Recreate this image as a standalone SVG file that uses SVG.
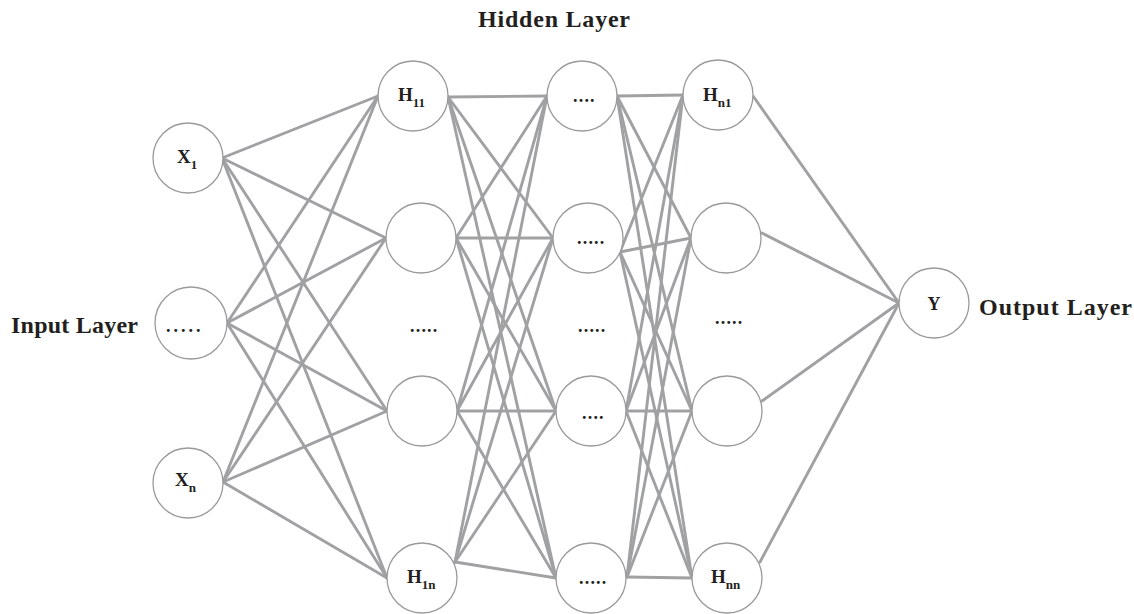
<svg xmlns="http://www.w3.org/2000/svg" width="1134" height="614" viewBox="0 0 1134 614">
<style>
.c{fill:#fff;stroke:#9a9a9c;stroke-width:1.3}
.e line{stroke:#a0a1a3;stroke-width:2.9;stroke-linecap:round}
.t{font-family:"Liberation Serif","Times New Roman",serif;font-weight:bold;fill:#231f20}
.lab{font-size:19px}
.sub{font-size:13px}
.dots{font-size:18px;letter-spacing:1.2px}
.title{font-size:24px}
</style>
<rect width="1134" height="614" fill="#fff"/>
<g id="connectors" class="e">
<line x1="222" y1="158" x2="378" y2="96"/><line x1="222" y1="158" x2="386" y2="238"/><line x1="222" y1="158" x2="387" y2="411"/><line x1="222" y1="158" x2="387" y2="578"/>
<line x1="227" y1="323" x2="378" y2="96"/><line x1="227" y1="323" x2="386" y2="238"/><line x1="227" y1="323" x2="387" y2="411"/><line x1="227" y1="323" x2="387" y2="578"/>
<line x1="223" y1="482" x2="378" y2="96"/><line x1="223" y1="482" x2="386" y2="238"/><line x1="223" y1="482" x2="387" y2="411"/><line x1="223" y1="482" x2="387" y2="578"/>
<line x1="448" y1="97" x2="547" y2="96"/><line x1="448" y1="97" x2="553" y2="238"/><line x1="448" y1="97" x2="556" y2="411"/><line x1="448" y1="97" x2="556" y2="578"/>
<line x1="456" y1="238" x2="547" y2="96"/><line x1="456" y1="238" x2="553" y2="238"/><line x1="456" y1="238" x2="556" y2="411"/><line x1="456" y1="238" x2="556" y2="578"/>
<line x1="457" y1="411" x2="547" y2="96"/><line x1="457" y1="411" x2="553" y2="238"/><line x1="457" y1="411" x2="556" y2="411"/><line x1="457" y1="411" x2="556" y2="578"/>
<line x1="455" y1="562" x2="547" y2="96"/><line x1="455" y1="562" x2="553" y2="238"/><line x1="455" y1="562" x2="556" y2="411"/><line x1="455" y1="562" x2="556" y2="578"/>
<line x1="617" y1="96" x2="683" y2="95"/><line x1="617" y1="96" x2="691" y2="238"/><line x1="617" y1="96" x2="692" y2="411"/><line x1="617" y1="96" x2="692" y2="578"/>
<line x1="620" y1="252" x2="683" y2="95"/><line x1="620" y1="252" x2="691" y2="238"/><line x1="620" y1="252" x2="692" y2="411"/><line x1="620" y1="252" x2="692" y2="578"/>
<line x1="626" y1="411" x2="683" y2="95"/><line x1="626" y1="411" x2="691" y2="238"/><line x1="626" y1="411" x2="692" y2="411"/><line x1="626" y1="411" x2="692" y2="578"/>
<line x1="627" y1="577" x2="683" y2="95"/><line x1="627" y1="577" x2="691" y2="238"/><line x1="627" y1="577" x2="692" y2="411"/><line x1="627" y1="577" x2="692" y2="578"/>
<line x1="753" y1="96" x2="899" y2="303"/><line x1="762" y1="233" x2="899" y2="303"/><line x1="762" y1="401" x2="899" y2="303"/><line x1="760" y1="562" x2="899" y2="303"/>
</g>
<g id="x1"><circle class="c" cx="188" cy="158" r="35"/><text class="t lab" x="177" y="163">X<tspan class="sub" dy="6">1</tspan></text></g>
<g id="xmid"><circle class="c" cx="191" cy="323" r="36"/><text class="t dots" x="166" y="332" style="letter-spacing:3px">.....</text></g>
<g id="xn"><circle class="c" cx="188" cy="483" r="35"/><text class="t lab" x="175" y="486">X<tspan class="sub" dy="6">n</tspan></text></g>
<g id="h11"><circle class="c" cx="413" cy="96" r="35"/><text class="t lab" x="398" y="101">H<tspan class="sub" dy="6">11</tspan></text></g>
<g id="h1a"><circle class="c" cx="421" cy="238" r="35"/></g>
<g id="h1mid"><text class="t dots" x="410" y="332">.....</text></g>
<g id="h1b"><circle class="c" cx="422" cy="411" r="35"/></g>
<g id="h1n"><circle class="c" cx="422" cy="578" r="35"/><text class="t lab" x="407" y="583">H<tspan class="sub" dy="6">1n</tspan></text></g>
<g id="h21"><circle class="c" cx="582" cy="96" r="35"/><text class="t dots" x="573" y="102">....</text></g>
<g id="h2a"><circle class="c" cx="588" cy="238" r="35"/><text class="t dots" x="577" y="244">.....</text></g>
<g id="h2mid"><text class="t dots" x="578" y="332">.....</text></g>
<g id="h2b"><circle class="c" cx="591" cy="411" r="35"/><text class="t dots" x="582" y="419">....</text></g>
<g id="h2n"><circle class="c" cx="591" cy="578" r="35"/><text class="t dots" x="579" y="584">.....</text></g>
<g id="hn1"><circle class="c" cx="718" cy="95" r="35"/><text class="t lab" x="703" y="101">H<tspan class="sub" dy="6">n1</tspan></text></g>
<g id="h3a"><circle class="c" cx="726" cy="238" r="35"/></g>
<g id="h3mid"><text class="t dots" x="715" y="324">.....</text></g>
<g id="h3b"><circle class="c" cx="727" cy="411" r="35"/></g>
<g id="hnn"><circle class="c" cx="727" cy="578" r="35"/><text class="t lab" x="711" y="583">H<tspan class="sub" dy="6">nn</tspan></text></g>
<g id="y"><circle class="c" cx="934" cy="303" r="35"/><text class="t lab" x="934" y="310" text-anchor="middle" style="font-size:18px">Y</text></g>
<g id="labels">
<text class="t title" x="478" y="27" textLength="152" lengthAdjust="spacing">Hidden Layer</text>
<text class="t title" x="11" y="333" textLength="127" lengthAdjust="spacing">Input Layer</text>
<text class="t title" x="979" y="315" textLength="153" lengthAdjust="spacing">Output Layer</text>
</g>
</svg>
